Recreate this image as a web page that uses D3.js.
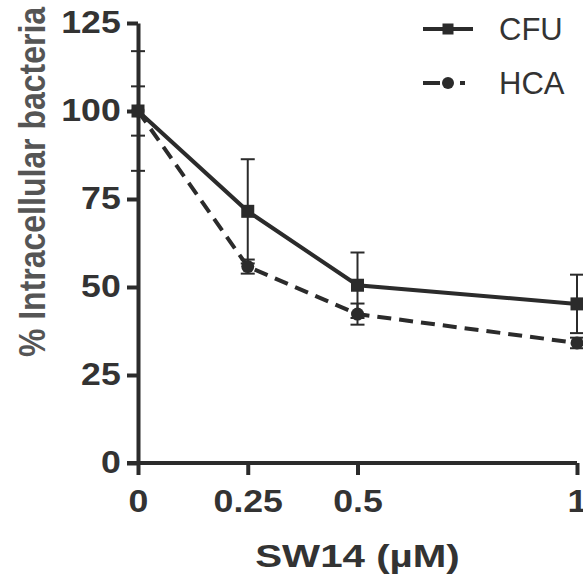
<!DOCTYPE html>
<html>
<head>
<meta charset="utf-8">
<script src="https://cdn.jsdelivr.net/npm/d3@7"></script>
<style>
  body { margin: 0; background: #fff; }
  svg { display: block; }
  text { font-family: "Liberation Sans", Arial, sans-serif; }
</style>
</head>
<body>
<div id="mainContainer"><svg></svg></div>
<script>
const SVG_WIDTH = 583;
const SVG_HEIGHT = 586;

// data
const doses = [0, 0.25, 0.5, 1];
const cfuMean = [100, 71.5, 50.5, 45.2];
const cfuErr = [7, 14.8, 9.3, 8.3];
const hcaMean = [100, 55.8, 42.3, 34.1];
const hcaErr = [17, 2, 3, 1.5];
const yTicks = [0, 25, 50, 75, 100, 125];
const xTicks = [0, 0.25, 0.5, 1];
const xTickLabels = ["0", "0.25", "0.5", "1"];

const INK = "#2b2b2b";
// the original figure's lettering is a bit wider than Liberation Sans
const STRETCH = 1.15;

let svg = d3.select("#mainContainer").select("svg")
    .attr("width", SVG_WIDTH)
    .attr("height", SVG_HEIGHT);

let x = d3.scaleLinear().domain([0, 1]).range([138, 577]);
let y = d3.scaleLinear().domain([0, 125]).range([463, 23]);

// axes
let yAxis = d3.axisLeft(y).tickValues(yTicks).tickSize(11).tickPadding(4).tickSizeOuter(0);
let yG = svg.append("g").attr("transform", `translate(${x(0)},0)`).call(yAxis);
let xAxis = d3.axisBottom(x).tickValues(xTicks).tickFormat((d, i) => xTickLabels[i])
    .tickSize(12).tickPadding(15).tickSizeOuter(0);
let xG = svg.append("g").attr("transform", `translate(0,${y(0)})`).call(xAxis);

[yG, xG].forEach(g => {
    g.select(".domain").attr("stroke", INK).attr("stroke-width", 4);
    g.selectAll(".tick line").attr("stroke", INK).attr("stroke-width", 4);
    g.selectAll(".tick text")
        .attr("fill", "#333")
        .attr("font-size", 31)
        .attr("font-weight", "bold")
        .attr("transform", `scale(${STRETCH},1)`);
});
xG.select(".domain").attr("d", `M${x(0) - 11},0H${x(1)}`);

// axis titles
svg.append("text")
    .attr("transform", `translate(45,182) scale(1.15,1) rotate(-90)`)
    .attr("text-anchor", "middle")
    .attr("font-size", 32)
    .attr("font-weight", "bold")
    .attr("fill", "#555")
    .text("% Intracellular bacteria");

svg.append("text")
    .attr("transform", `translate(${(x(0) + x(1)) / 2},567) scale(1.3,1)`)
    .attr("text-anchor", "middle")
    .attr("font-size", 31)
    .attr("font-weight", "bold")
    .attr("fill", "#333")
    .text("SW14 (µM)");

// series
let series = [
    { name: "CFU", mean: cfuMean, err: cfuErr, dash: null, shape: "square" },
    { name: "HCA", mean: hcaMean, err: hcaErr, dash: "14,8", shape: "circle" }
];

let line = d3.line().x((d, i) => x(doses[i])).y(d => y(d));

series.forEach(s => {
    let g = svg.append("g");
    // error bars
    s.mean.forEach((m, i) => {
        let cx = x(doses[i]);
        g.append("line").attr("x1", cx).attr("x2", cx)
            .attr("y1", y(m - s.err[i])).attr("y2", y(m + s.err[i]))
            .attr("stroke", INK).attr("stroke-width", 2);
        [m - s.err[i], m + s.err[i]].forEach(v => {
            g.append("line").attr("x1", cx - 7).attr("x2", cx + 7)
                .attr("y1", y(v)).attr("y2", y(v))
                .attr("stroke", INK).attr("stroke-width", 2);
        });
    });
    g.append("path").datum(s.mean)
        .attr("d", line)
        .attr("fill", "none")
        .attr("stroke", INK)
        .attr("stroke-width", 4)
        .attr("stroke-dasharray", s.dash);
    g.selectAll(".pt").data(s.mean).enter()
        .append(s.shape === "square" ? "rect" : "circle")
        .each(function (d, i) {
            let node = d3.select(this);
            if (s.shape === "square") {
                node.attr("x", x(doses[i]) - 6.5).attr("y", y(d) - 6.5)
                    .attr("width", 13).attr("height", 13);
            } else {
                node.attr("cx", x(doses[i])).attr("cy", y(d)).attr("r", 6.5);
            }
            node.attr("fill", INK);
        });
});

// legend
let legend = svg.append("g");
series.forEach((s, i) => {
    let ly = 29 + i * 54;
    legend.append("line").attr("x1", 423).attr("x2", 473)
        .attr("y1", ly).attr("y2", ly)
        .attr("stroke", INK).attr("stroke-width", 4)
        .attr("stroke-dasharray", s.dash ? "17,8,5,7,5" : null);
    if (s.shape === "square") {
        legend.append("rect").attr("x", 448 - 5.5).attr("y", ly - 5.5)
            .attr("width", 11).attr("height", 11).attr("fill", INK);
    } else {
        legend.append("circle").attr("cx", 448).attr("cy", ly).attr("r", 6).attr("fill", INK);
    }
    legend.append("text").attr("x", 499).attr("y", ly + 10.5)
        .attr("font-size", 31).attr("fill", "#333")
        .text(s.name);
});
</script>
</body>
</html>
